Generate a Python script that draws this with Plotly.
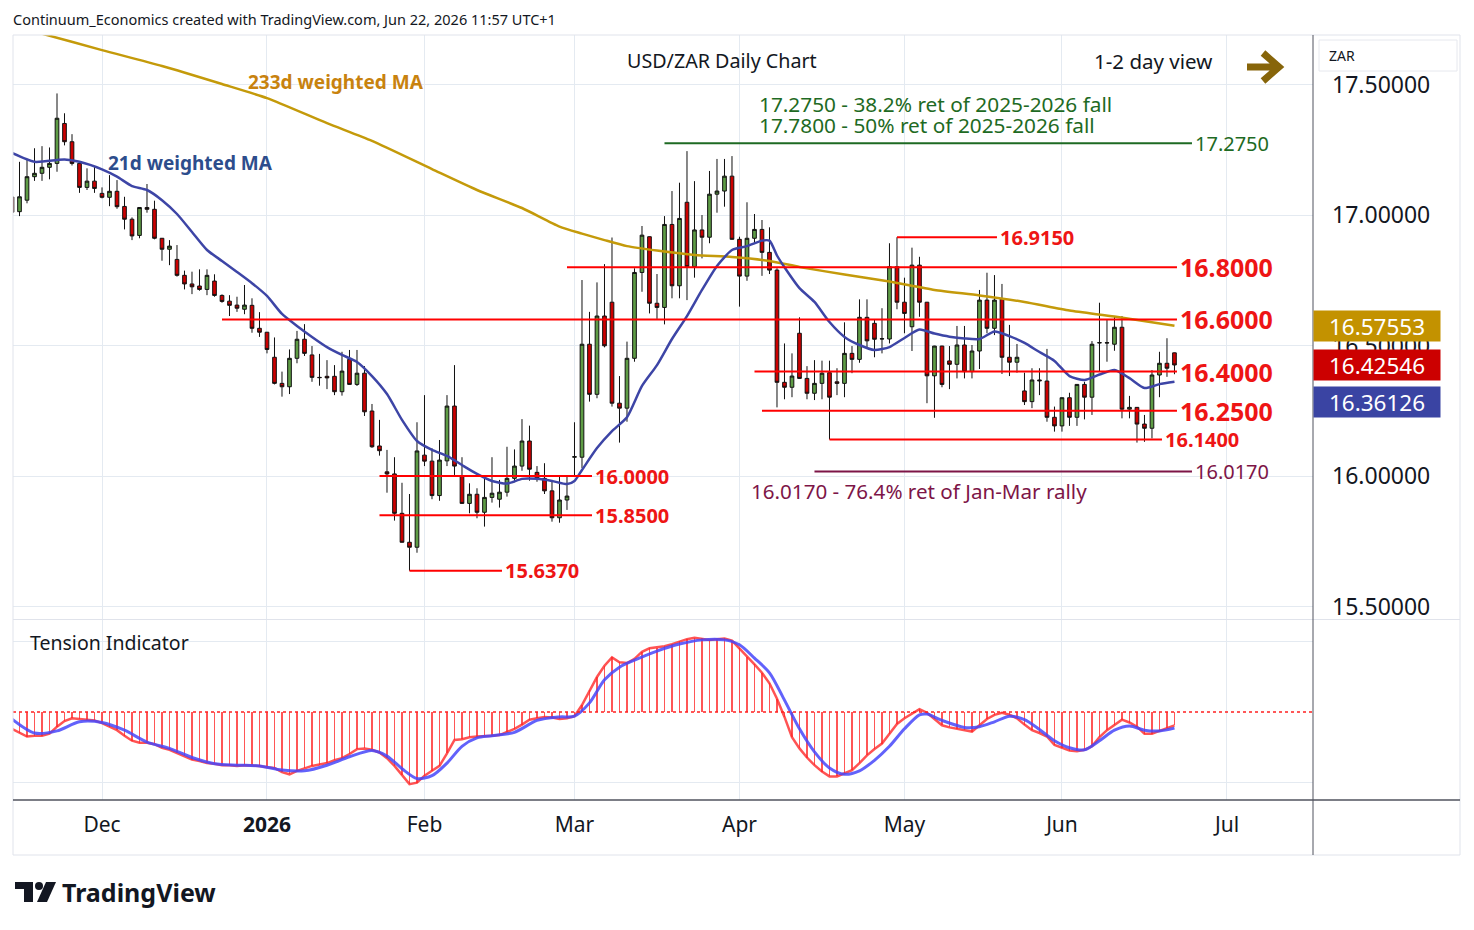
import pandas as pd
import plotly.graph_objects as go

# trading days on the chart (weekdays, no Christmas / New Year bar)
days = pd.bdate_range("2025-11-13", "2026-06-22")
days = days[~days.isin(pd.to_datetime(["2025-12-25", "2026-01-01"]))]

# USD/ZAR daily OHLC
opens = [
    # Nov
    17.069, 17.013, 17.057, 17.147, 17.160, 17.183, 17.198, 17.351, 17.281, 17.198, 17.106, 17.130,
    # Dec
    17.083, 17.068, 17.091, 17.033, 16.984, 16.922, 17.029, 17.022, 16.911, 16.869, 16.830, 16.769,
    16.736, 16.728, 16.715, 16.747, 16.692, 16.670, 16.655, 16.639, 16.654, 16.566,
    # Jan
    16.551, 16.455, 16.355, 16.342, 16.451, 16.524, 16.464, 16.378, 16.382, 16.382, 16.323, 16.447,
    16.351, 16.394, 16.249, 16.115, 16.016, 16.008, 15.857, 15.746, 15.727,
    # Feb
    16.080, 16.057, 15.925, 16.058, 16.268, 16.000, 15.895, 15.930, 15.861, 15.918, 15.911, 15.938,
    15.991, 16.038, 16.134, 16.014, 15.991, 15.943, 15.840, 15.908,
    # Mar
    16.072, 16.072, 16.505, 16.313, 16.613, 16.666, 16.279, 16.260, 16.451, 16.780, 16.917, 16.662,
    16.646, 16.964, 16.729, 17.049, 16.802, 16.943, 16.915, 17.080, 17.092, 17.149,
    # Apr
    16.907, 16.766, 16.911, 16.945, 16.857, 16.789, 16.359, 16.340, 16.547, 16.374, 16.317, 16.355,
    16.396, 16.361, 16.355, 16.470, 16.447, 16.608, 16.585, 16.525, 16.525, 16.802,
    # May
    16.666, 16.572, 16.808, 16.666, 16.384, 16.498, 16.441, 16.428, 16.502, 16.400, 16.479, 16.674,
    16.566, 16.678, 16.455, 16.436, 16.326, 16.285, 16.368, 16.364, 16.225,
    # Jun
    16.192, 16.300, 16.225, 16.351, 16.302, 16.510, 16.511, 16.505, 16.570, 16.256, 16.263, 16.199,
    16.183, 16.387, 16.432, 16.472,
]
highs = [
    17.096, 17.204, 17.213, 17.256, 17.264, 17.259, 17.466, 17.390, 17.310, 17.198, 17.179, 17.188,
    17.106, 17.153, 17.134, 17.070, 16.991, 17.030, 17.119, 17.055, 16.912, 16.904, 16.885, 16.787,
    16.783, 16.792, 16.792, 16.773, 16.696, 16.693, 16.687, 16.732, 16.681, 16.628,
    16.552, 16.531, 16.400, 16.485, 16.556, 16.582, 16.498, 16.468, 16.444, 16.425, 16.476, 16.483,
    16.483, 16.421, 16.276, 16.215, 16.100, 16.072, 15.974, 15.931, 16.206,
    16.310, 16.106, 16.138, 16.310, 16.425, 16.072, 15.972, 15.953, 15.991, 16.072, 15.985, 16.112,
    16.102, 16.218, 16.193, 16.038, 16.049, 15.981, 15.997, 15.997,
    16.206, 16.751, 16.629, 16.742, 16.812, 16.914, 16.383, 16.515, 16.796, 16.958, 16.918, 16.774,
    16.996, 17.092, 17.124, 17.245, 17.130, 17.000, 17.169, 17.215, 17.215, 17.226,
    16.917, 17.049, 17.004, 16.981, 16.953, 16.796, 16.508, 16.470, 16.608, 16.421, 16.444, 16.442,
    16.442, 16.413, 16.589, 16.498, 16.677, 16.677, 16.600, 16.643, 16.892, 16.915,
    16.760, 16.875, 16.840, 16.667, 16.499, 16.499, 16.498, 16.575, 16.575, 16.502, 16.713, 16.779,
    16.770, 16.736, 16.579, 16.506, 16.396, 16.413, 16.413, 16.487, 16.266,
    16.301, 16.319, 16.352, 16.361, 16.517, 16.664, 16.600, 16.610, 16.613, 16.307, 16.264, 16.234,
    16.406, 16.476, 16.528, 16.473,
]
lows = [
    17.004, 16.996, 17.045, 17.131, 17.131, 17.137, 17.166, 17.267, 17.190, 17.085, 17.096, 17.085,
    17.064, 17.034, 17.024, 16.945, 16.904, 16.911, 17.009, 16.907, 16.825, 16.808, 16.764, 16.715,
    16.697, 16.710, 16.693, 16.687, 16.664, 16.613, 16.629, 16.620, 16.549, 16.533,
    16.470, 16.351, 16.304, 16.314, 16.432, 16.460, 16.361, 16.346, 16.333, 16.310, 16.308, 16.350,
    16.345, 16.230, 16.108, 16.078, 15.936, 15.829, 15.745, 15.637, 15.706,
    16.038, 15.911, 15.905, 16.038, 16.004, 15.894, 15.857, 15.838, 15.806, 15.898, 15.879, 15.921,
    15.976, 16.020, 15.982, 15.978, 15.931, 15.825, 15.821, 15.870,
    15.997, 16.030, 16.285, 16.298, 16.493, 16.266, 16.128, 16.208, 16.438, 16.706, 16.623, 16.602,
    16.581, 16.681, 16.681, 16.674, 16.760, 16.834, 16.892, 17.009, 17.032, 16.906,
    16.649, 16.748, 16.892, 16.767, 16.774, 16.263, 16.294, 16.302, 16.372, 16.294, 16.291, 16.294,
    16.140, 16.310, 16.302, 16.394, 16.434, 16.493, 16.455, 16.470, 16.508, 16.639,
    16.547, 16.479, 16.610, 16.279, 16.223, 16.340, 16.333, 16.374, 16.374, 16.374, 16.410, 16.547,
    16.540, 16.391, 16.383, 16.396, 16.272, 16.260, 16.310, 16.208, 16.170,
    16.170, 16.192, 16.192, 16.217, 16.234, 16.400, 16.438, 16.480, 16.221, 16.221, 16.128, 16.131,
    16.144, 16.302, 16.380, 16.390,
]
closes = [
    17.011, 17.070, 17.147, 17.160, 17.183, 17.198, 17.371, 17.281, 17.198, 17.106, 17.130, 17.102,
    17.068, 17.091, 17.032, 16.984, 16.920, 17.029, 17.022, 16.911, 16.869, 16.881, 16.769, 16.736,
    16.725, 16.715, 16.769, 16.692, 16.669, 16.654, 16.643, 16.655, 16.566, 16.551,
    16.485, 16.355, 16.342, 16.451, 16.524, 16.470, 16.378, 16.377, 16.376, 16.323, 16.402, 16.351,
    16.394, 16.246, 16.112, 16.097, 16.008, 15.857, 15.746, 15.727, 16.096,
    16.057, 15.925, 16.061, 16.268, 16.038, 15.895, 15.930, 15.861, 15.918, 15.934, 15.938, 15.991,
    16.038, 16.134, 16.026, 15.991, 15.943, 15.840, 15.908, 15.923,
    16.074, 16.505, 16.313, 16.613, 16.499, 16.279, 16.260, 16.451, 16.780, 16.923, 16.662, 16.646,
    16.964, 16.729, 16.987, 16.802, 16.943, 16.915, 17.080, 17.092, 17.149, 16.907,
    16.766, 16.911, 16.945, 16.857, 16.789, 16.359, 16.340, 16.383, 16.374, 16.317, 16.355, 16.394,
    16.302, 16.355, 16.470, 16.447, 16.608, 16.518, 16.524, 16.526, 16.802, 16.666,
    16.623, 16.808, 16.666, 16.384, 16.498, 16.351, 16.428, 16.502, 16.400, 16.479, 16.674, 16.566,
    16.674, 16.455, 16.436, 16.455, 16.285, 16.368, 16.365, 16.225, 16.192,
    16.300, 16.225, 16.351, 16.302, 16.505, 16.511, 16.510, 16.570, 16.256, 16.263, 16.199, 16.183,
    16.387, 16.432, 16.413, 16.42546,
]

# tension indicator, one value per bar
tension = [
    -0.24, -0.30, -0.35, -0.34, -0.34, -0.31, -0.21, -0.13, -0.09, -0.10, -0.11, -0.12,
    -0.16, -0.21, -0.26, -0.34, -0.41, -0.44, -0.44, -0.46, -0.51, -0.54, -0.59, -0.63,
    -0.68, -0.70, -0.73, -0.74, -0.76, -0.76, -0.77, -0.76, -0.76, -0.77,
    -0.79, -0.80, -0.86, -0.89, -0.84, -0.80, -0.77, -0.75, -0.73, -0.69, -0.66, -0.60,
    -0.53, -0.52, -0.54, -0.58, -0.66, -0.77, -0.90, -1.03, -1.01,
    -0.91, -0.84, -0.77, -0.59, -0.40, -0.39, -0.36, -0.35, -0.35, -0.34, -0.33, -0.29,
    -0.24, -0.18, -0.11, -0.09, -0.07, -0.08, -0.10, -0.09,
    -0.06, 0.10, 0.31, 0.50, 0.66, 0.78, 0.71, 0.70, 0.76, 0.86, 0.91, 0.92,
    0.94, 0.97, 1.01, 1.04, 1.06, 1.05, 1.03, 1.04, 1.05, 1.02,
    0.91, 0.79, 0.68, 0.56, 0.41, 0.19, -0.07, -0.36, -0.52, -0.65, -0.76, -0.85,
    -0.92, -0.92, -0.88, -0.83, -0.73, -0.62, -0.53, -0.45, -0.31, -0.17,
    -0.09, -0.02, 0.04, -0.01, -0.10, -0.19, -0.22, -0.24, -0.26, -0.28, -0.19, -0.10,
    -0.04, -0.01, -0.04, -0.09, -0.18, -0.26, -0.30, -0.35, -0.47,
    -0.51, -0.55, -0.56, -0.54, -0.49, -0.36, -0.26, -0.18, -0.11, -0.15, -0.21, -0.31,
    -0.31, -0.27, -0.23, -0.19,
]
assert len(days) == len(opens) == len(highs) == len(lows) == len(closes) == len(tension)

# 21d weighted MA (sampled)
ma21_days = [
    "2025-11-13", "2025-11-18", "2025-11-21", "2025-11-24", "2025-11-26",
    "2025-12-01", "2025-12-03", "2025-12-05", "2025-12-09", "2025-12-11", "2025-12-15",
    "2025-12-17", "2025-12-19", "2025-12-23", "2025-12-26", "2025-12-30",
    "2026-01-02", "2026-01-06", "2026-01-08", "2026-01-12", "2026-01-14", "2026-01-16",
    "2026-01-20", "2026-01-22", "2026-01-26", "2026-01-28", "2026-01-30",
    "2026-02-03", "2026-02-05", "2026-02-09", "2026-02-11", "2026-02-13", "2026-02-17",
    "2026-02-19", "2026-02-23", "2026-02-25", "2026-02-27",
    "2026-03-02", "2026-03-03", "2026-03-05", "2026-03-09", "2026-03-11", "2026-03-13",
    "2026-03-17", "2026-03-19", "2026-03-23", "2026-03-25", "2026-03-27", "2026-03-31",
    "2026-04-02", "2026-04-06", "2026-04-07", "2026-04-08", "2026-04-09", "2026-04-13",
    "2026-04-15", "2026-04-17", "2026-04-21", "2026-04-23", "2026-04-27", "2026-04-29",
    "2026-05-01", "2026-05-05", "2026-05-07", "2026-05-11", "2026-05-13", "2026-05-15",
    "2026-05-19", "2026-05-21", "2026-05-25", "2026-05-27", "2026-05-29",
    "2026-06-02", "2026-06-04", "2026-06-08", "2026-06-10", "2026-06-12", "2026-06-16",
    "2026-06-18", "2026-06-22",
]
ma21_vals = [
    17.238, 17.204, 17.211, 17.213, 17.204,
    17.175, 17.147, 17.111, 17.096, 17.057, 17.004, 16.935, 16.866, 16.824, 16.782, 16.739,
    16.690, 16.621, 16.575, 16.533, 16.494, 16.464, 16.437, 16.383, 16.314, 16.215, 16.134,
    16.100, 16.077, 16.042, 16.008, 15.981, 15.971, 15.989, 15.989, 15.981, 15.969,
    15.981, 16.023, 16.107, 16.172, 16.225, 16.345, 16.425, 16.525, 16.613, 16.713, 16.805, 16.866,
    16.881, 16.902, 16.902, 16.845, 16.800, 16.720, 16.667, 16.590, 16.533, 16.502, 16.483, 16.494,
    16.529, 16.561, 16.546, 16.534, 16.527, 16.525, 16.554, 16.536, 16.510, 16.475, 16.441,
    16.383, 16.368, 16.389, 16.406, 16.375, 16.337, 16.352, 16.361,
]

# 233d weighted MA (sampled)
ma233_days = [
    "2025-11-13", "2025-11-19", "2025-12-01", "2025-12-11", "2025-12-23", "2026-01-02",
    "2026-01-14", "2026-01-22", "2026-02-03", "2026-02-11", "2026-02-19", "2026-02-26",
    "2026-03-03", "2026-03-06", "2026-03-11", "2026-03-17", "2026-03-24", "2026-03-31",
    "2026-04-07", "2026-04-13", "2026-04-21", "2026-04-29", "2026-05-07", "2026-05-15",
    "2026-05-25", "2026-06-02", "2026-06-10", "2026-06-22",
]
ma233_vals = [
    17.724, 17.695, 17.632, 17.571, 17.502, 17.448, 17.352, 17.284, 17.176, 17.096, 17.027, 16.956,
    16.929, 16.904, 16.881, 16.864, 16.847, 16.839, 16.824, 16.801, 16.772, 16.745, 16.713, 16.692,
    16.667, 16.634, 16.611, 16.5755,
]

# tension signal line (sampled)
sig_days = [
    "2025-11-13", "2025-11-18", "2025-11-21", "2025-11-26",
    "2025-12-01", "2025-12-04", "2025-12-09", "2025-12-12", "2025-12-17", "2025-12-22",
    "2025-12-26", "2025-12-31",
    "2026-01-06", "2026-01-09", "2026-01-14", "2026-01-19", "2026-01-22", "2026-01-26",
    "2026-01-28", "2026-01-30",
    "2026-02-03", "2026-02-05", "2026-02-09", "2026-02-11", "2026-02-13", "2026-02-18",
    "2026-02-23", "2026-02-26",
    "2026-03-02", "2026-03-04", "2026-03-06", "2026-03-10", "2026-03-12", "2026-03-17",
    "2026-03-20", "2026-03-25", "2026-03-30",
    "2026-04-01", "2026-04-03", "2026-04-07", "2026-04-09", "2026-04-13", "2026-04-15",
    "2026-04-17", "2026-04-21", "2026-04-23", "2026-04-27", "2026-04-29",
    "2026-05-01", "2026-05-05", "2026-05-06", "2026-05-08", "2026-05-13", "2026-05-15",
    "2026-05-19", "2026-05-21", "2026-05-25", "2026-05-27", "2026-05-29",
    "2026-06-02", "2026-06-04", "2026-06-08", "2026-06-10", "2026-06-12", "2026-06-16",
    "2026-06-18", "2026-06-22",
]
sig_vals = [
    -0.10, -0.30, -0.27, -0.14,
    -0.15, -0.26, -0.43, -0.52, -0.65, -0.74, -0.76, -0.77,
    -0.83, -0.84, -0.76, -0.64, -0.55, -0.63, -0.81, -0.95,
    -0.91, -0.73, -0.49, -0.37, -0.34, -0.29, -0.12, -0.07,
    -0.06, 0.13, 0.46, 0.64, 0.74, 0.87, 0.97, 1.03, 1.03,
    0.96, 0.77, 0.56, 0.17, -0.24, -0.57, -0.80, -0.89, -0.84, -0.69, -0.49,
    -0.24, -0.04, -0.03, -0.12, -0.22, -0.21, -0.14, -0.06, -0.11, -0.25, -0.41,
    -0.51, -0.54, -0.41, -0.26, -0.20, -0.26, -0.27, -0.23,
]

# support / resistance levels drawn on the chart
level_vals = [17.275, 16.915, 16.80, 16.60, 16.40, 16.25, 16.14, 16.017, 16.00, 15.85, 15.637]
level_text = ["17.2750", "16.9150", "16.8000", "16.6000", "16.4000", "16.2500", "16.1400",
              "16.0170", "16.0000", "15.8500", "15.6370"]
level_from = ["2026-03-18", "2026-04-30", "2026-02-27", "2025-12-23", "2026-04-03", "2026-04-06",
              "2026-04-17", "2026-04-15", "2026-01-23", "2026-01-23", "2026-01-29"]
level_to = ["2026-06-24", "2026-05-19", "2026-06-22", "2026-06-22", "2026-06-22", "2026-06-22",
            "2026-06-18", "2026-06-24", "2026-03-04", "2026-03-04", "2026-02-16"]

month_ticks = ["2025-12-01", "2026-01-02", "2026-02-02", "2026-03-02", "2026-04-01",
               "2026-05-01", "2026-06-01", "2026-07-01"]
month_text = ["Dec", "<b>2026</b>", "Feb", "Mar", "Apr", "May", "Jun", "Jul"]

last_vals = [16.57553, 16.42546, 16.36126]

# styles
GREEN_TXT = "#1e6a23"
MAROON = "#7d1547"
RED = "#ff0000"
RED_TXT = "#ee1515"
GRID = "#e4eaf1"
FONT = "Noto Sans"
level_color = [GREEN_TXT, RED, RED, RED, RED, RED, RED, MAROON, RED, RED, RED]
label_color = [GREEN_TXT, RED_TXT, RED_TXT, RED_TXT, RED_TXT, RED_TXT, RED_TXT, MAROON,
               RED_TXT, RED_TXT, RED_TXT]
label_size = [20, 20, 25, 25, 25, 25, 20, 20, 20, 20, 20]
label_bold = [False, True, True, True, True, True, True, False, True, True, True]


def noon(d):
    # bars sit in the middle of their day on the date axis
    return pd.to_datetime(d) + pd.Timedelta(hours=12)


# page coordinates -> paper (plot area spans x 13..1313, y 35..800 on the page)
def px_x(p):
    return (p - 13) / 1300.0


def px_y(p):
    return (800 - p) / 765.0


fig = go.Figure()

fig.add_trace(go.Candlestick(
    x=noon(days), open=opens, high=highs, low=lows, close=closes,
    increasing=dict(line=dict(color="#111111", width=1), fillcolor="#5e9c45"),
    decreasing=dict(line=dict(color="#111111", width=1), fillcolor="#cc0000"),
    whiskerwidth=0, hoverinfo="skip", xaxis="x", yaxis="y"))
fig.add_trace(go.Scatter(
    x=noon(ma233_days), y=ma233_vals, mode="lines",
    line=dict(color="#c49a0a", width=2.5, shape="spline", smoothing=0.6),
    hoverinfo="skip", xaxis="x", yaxis="y"))
fig.add_trace(go.Scatter(
    x=noon(ma21_days), y=ma21_vals, mode="lines",
    line=dict(color="#3d45a6", width=2.5, shape="spline", smoothing=0.6),
    hoverinfo="skip", xaxis="x", yaxis="y"))

# tension pane
fig.add_trace(go.Bar(
    x=noon(days), y=tension, width=0.22 * 86400000,
    marker=dict(color="rgba(255,30,30,0.75)", line=dict(width=0)),
    hoverinfo="skip", xaxis="x2", yaxis="y2"))
fig.add_trace(go.Scatter(
    x=noon(days), y=tension, mode="lines",
    line=dict(color="rgba(255,40,40,0.8)", width=2.5),
    hoverinfo="skip", xaxis="x2", yaxis="y2"))
fig.add_trace(go.Scatter(
    x=noon(sig_days), y=sig_vals, mode="lines",
    line=dict(color="rgba(70,70,250,0.85)", width=3, shape="spline", smoothing=0.8),
    hoverinfo="skip", xaxis="x2", yaxis="y2"))

shapes = []
annotations = []

for v, t, a, b, lc, tc, ts, tb in zip(level_vals, level_text, level_from, level_to,
                                      level_color, label_color, label_size, label_bold):
    end = noon(b) + pd.Timedelta(hours=8)
    shapes.append(dict(type="line", xref="x", yref="y", x0=noon(a), x1=end,
                       y0=v, y1=v, line=dict(color=lc, width=2)))
    annotations.append(dict(xref="x", yref="y", x=end, y=v,
                            text="<b>%s</b>" % t if tb else t, showarrow=False,
                            xanchor="left", yanchor="middle", xshift=1,
                            font=dict(size=ts, color=tc, family=FONT)))

# zero line of the tension pane
shapes.append(dict(type="line", xref="paper", yref="y2", x0=0, x1=1, y0=0, y1=0,
                   line=dict(color="#ff2020", width=1.5, dash="dot")))

# frame, pane separator and axis lines
shapes += [
    dict(type="rect", xref="paper", yref="paper", x0=0, x1=px_x(1460), y0=px_y(855), y1=1,
         line=dict(color="#e0e3eb", width=1)),
    dict(type="line", xref="paper", yref="paper", x0=0, x1=px_x(1460), y0=px_y(619.5), y1=px_y(619.5),
         line=dict(color="#e0e3eb", width=1)),
    dict(type="line", xref="paper", yref="paper", x0=1, x1=1, y0=px_y(855), y1=1,
         line=dict(color="#50535e", width=1)),
    dict(type="line", xref="paper", yref="paper", x0=0, x1=px_x(1460), y0=0, y1=0,
         line=dict(color="#50535e", width=1.5)),
    dict(type="rect", xref="paper", yref="paper", x0=px_x(1319), x1=px_x(1457), y0=px_y(71), y1=px_y(40),
         line=dict(color="#e6e8ee", width=1), fillcolor="white"),
]

# 1-2 day view arrow
shapes.append(dict(type="path", xref="paper", yref="paper",
                   path="M %f,%f L %f,%f M %f,%f L %f,%f L %f,%f" % (
                       px_x(1247), px_y(67), px_x(1276), px_y(67),
                       px_x(1263), px_y(53), px_x(1279), px_y(67), px_x(1263), px_y(81)),
                   line=dict(color="#87650a", width=7)))

# TradingView logo mark
shapes += [
    dict(type="rect", xref="paper", yref="paper", x0=px_x(15), x1=px_x(33), y0=px_y(889), y1=px_y(882),
         fillcolor="#131722", line=dict(width=0)),
    dict(type="rect", xref="paper", yref="paper", x0=px_x(24), x1=px_x(33), y0=px_y(902), y1=px_y(882),
         fillcolor="#131722", line=dict(width=0)),
    dict(type="circle", xref="paper", yref="paper", x0=px_x(35), x1=px_x(43), y0=px_y(890), y1=px_y(882),
         fillcolor="#131722", line=dict(width=0)),
    dict(type="path", xref="paper", yref="paper",
         path="M %f,%f L %f,%f L %f,%f L %f,%f Z" % (
             px_x(46), px_y(882), px_x(56), px_y(882), px_x(47), px_y(902), px_x(37), px_y(902)),
         fillcolor="#131722", line=dict(width=0)),
]


def note(text, x, y, size, color="#131722", xanchor="left", bold=False):
    annotations.append(dict(xref="paper", yref="paper", x=x, y=y, showarrow=False,
                            text="<b>%s</b>" % text if bold else text,
                            xanchor=xanchor, yanchor="middle",
                            font=dict(size=size, color=color, family=FONT)))


note("Continuum_Economics created with TradingView.com, Jun 22, 2026 11:57 UTC+1",
     px_x(11), px_y(19), 14.5)
note("USD/ZAR Daily Chart", px_x(722), px_y(61), 19.7, xanchor="center")
note("1-2 day view", px_x(1214), px_y(61), 20.5, xanchor="right")
note("17.2750 - 38.2% ret of 2025-2026 fall", px_x(757), px_y(104), 20.8, GREEN_TXT)
note("17.7800 - 50% ret of 2025-2026 fall", px_x(757), px_y(124.5), 20.8, GREEN_TXT)
note("16.0170 - 76.4% ret of Jan-Mar rally", px_x(749), px_y(491), 20.6, MAROON)
note("21d weighted MA", px_x(106), px_y(163), 19, "#2d4d8c", bold=True)
note("233d weighted MA", px_x(246), px_y(82), 19, "#c8820e", bold=True)
note("Tension Indicator", px_x(28), px_y(642), 19.5)
note("ZAR", px_x(1327), px_y(55), 14)
note("TradingView", px_x(60), px_y(892), 25, bold=True)

# last value tags on the price scale
badge_y = [last_vals[0], last_vals[1], 16.2835]
badge_col = ["#c39200", "#cc0000", "#3a44a3"]
for v, by, c in zip(last_vals, badge_y, badge_col):
    annotations.append(dict(xref="paper", yref="y", x=1.0, y=by, xanchor="left", yanchor="middle",
                            text="%.5f" % v, showarrow=False, bgcolor=c, width=124, height=28,
                            align="center", font=dict(size=22.5, color="white", family=FONT)))

rb = [dict(bounds=["sat", "mon"]), dict(values=["2025-12-25", "2026-01-01"])]
x_range = [pd.Timestamp("2025-11-13 15:12"), pd.Timestamp("2026-07-16 23:17")]

# the page adds an 8px body margin, so the figure is 8px smaller and shifted margins
fig.update_layout(
    width=1466, height=922,
    margin=dict(l=5, r=161, t=27, b=130),
    paper_bgcolor="white", plot_bgcolor="white",
    showlegend=False, bargap=0,
    font=dict(family=FONT, color="#131722"),
    shapes=shapes, annotations=annotations,
    xaxis=dict(domain=[0, 1], anchor="y", range=x_range, rangebreaks=rb,
               rangeslider=dict(visible=False), showticklabels=False,
               tickvals=noon(month_ticks), showgrid=True, gridcolor=GRID, zeroline=False,
               showline=False),
    xaxis2=dict(domain=[0, 1], anchor="y2", matches="x", range=x_range, rangebreaks=rb,
                tickvals=noon(month_ticks), ticktext=month_text, showgrid=True, gridcolor=GRID,
                zeroline=False, showline=False, ticks="", ticklabelstandoff=10,
                tickfont=dict(size=21, color="#131722", family=FONT)),
    yaxis=dict(domain=[px_y(619), 1], anchor="x", side="right", range=[15.452, 17.690],
               tickvals=[15.5, 16.0, 16.5, 17.0, 17.5], tickformat=".5f",
               showgrid=True, gridcolor=GRID, zeroline=False, ticks="", ticklabelstandoff=18,
               tickfont=dict(size=23, color="#131722", family=FONT)),
    yaxis2=dict(domain=[0, px_y(620)], anchor="x2", side="right", range=[-1.257, 1.314],
                tickvals=[-1, 1], showticklabels=False, showgrid=True, gridcolor=GRID,
                zeroline=False, ticks=""),
)

fig.write_html("out.html")
